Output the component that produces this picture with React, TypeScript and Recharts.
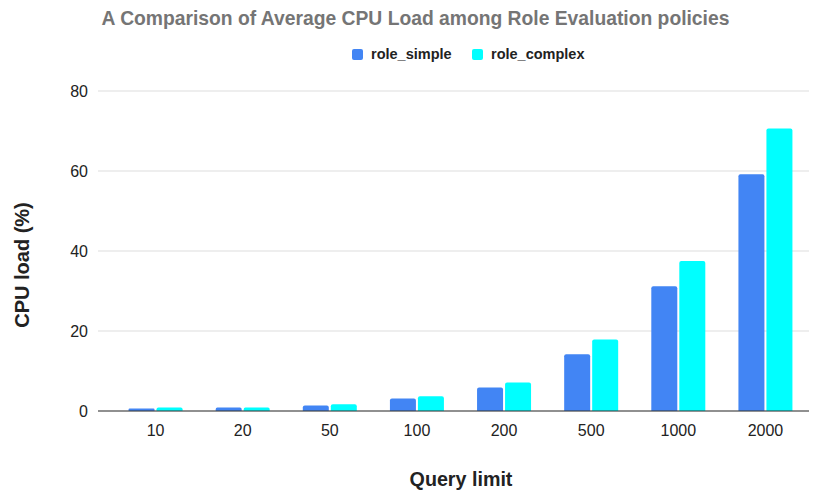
import React from 'react';
import { BarChart, Bar, XAxis, YAxis, CartesianGrid } from 'recharts';

const queryLimits = ['10', '20', '50', '100', '200', '500', '1000', '2000'];
const roleSimple = [0.6, 0.85, 1.4, 3.1, 5.9, 14.2, 31.2, 59.2];
const roleComplex = [0.9, 0.85, 1.7, 3.7, 7.1, 17.9, 37.5, 70.6];
const yTicks = [0, 20, 40, 60, 80];

const FONT = '"Liberation Sans", Arial, sans-serif';
const BLUE = '#4285F4';
const CYAN = '#00FFFF';

const chartData = queryLimits.map((q, i) => ({
  limit: q,
  role_simple: roleSimple[i],
  role_complex: roleComplex[i],
}));

const LegendItem: React.FC<{ color: string; label: string; left: number }> = ({ color, label, left }) => (
  <div style={{ position: 'absolute', left, top: 45, height: 18, display: 'flex', alignItems: 'center' }}>
    <span style={{ width: 11, height: 11, background: color, borderRadius: 2, marginRight: 8, display: 'inline-block' }} />
    <span style={{ fontSize: 14.5, fontWeight: 700, color: '#222', lineHeight: '18px' }}>{label}</span>
  </div>
);

const App: React.FC = () => {
  return (
    <div style={{ position: 'absolute', left: 0, top: 0, width: 815, height: 495, background: '#fff', fontFamily: FONT }}>
      <div style={{ position: 'absolute', left: 0, top: 7, width: 831, textAlign: 'center', fontSize: 19.3, lineHeight: '23px', fontWeight: 700, color: '#757575', whiteSpace: 'nowrap' }}>
        A Comparison of Average CPU Load among Role Evaluation policies
      </div>
      <LegendItem color={BLUE} label="role_simple" left={352} />
      <LegendItem color={CYAN} label="role_complex" left={472} />
      <div style={{ position: 'absolute', left: 22, top: 265, transform: 'translate(-50%, -50%) rotate(-90deg)', whiteSpace: 'nowrap', fontSize: 20, lineHeight: '23px', fontWeight: 700, color: '#222' }}>
        CPU load (%)
      </div>
      <div style={{ position: 'absolute', left: 0, top: 468, width: 922, textAlign: 'center', fontSize: 19.7, lineHeight: '23px', fontWeight: 700, color: '#222' }}>
        Query limit
      </div>
      <BarChart
        width={815}
        height={495}
        data={chartData}
        margin={{ top: 91, right: 6, bottom: 54, left: 0 }}
        barCategoryGap="19%"
        barGap={2}
        style={{ fontFamily: FONT }}
      >
        <CartesianGrid vertical={false} stroke="#dddddd" />
        <XAxis
          dataKey="limit"
          height={30}
          padding={{ left: 14, right: 0 }}
          tickLine={false}
          tickMargin={8}
          axisLine={{ stroke: '#333' }}
          tick={{ fill: '#222', fontSize: 16 }}
        />
        <YAxis
          width={98}
          domain={[0, 80]}
          ticks={yTicks}
          axisLine={false}
          tickLine={false}
          tickMargin={4}
          tick={{ fill: '#222', fontSize: 16 }}
        />
        <Bar dataKey="role_simple" fill={BLUE} radius={[2, 2, 0, 0]} isAnimationActive={false} />
        <Bar dataKey="role_complex" fill={CYAN} radius={[2, 2, 0, 0]} isAnimationActive={false} />
      </BarChart>
    </div>
  );
};

export default App;
